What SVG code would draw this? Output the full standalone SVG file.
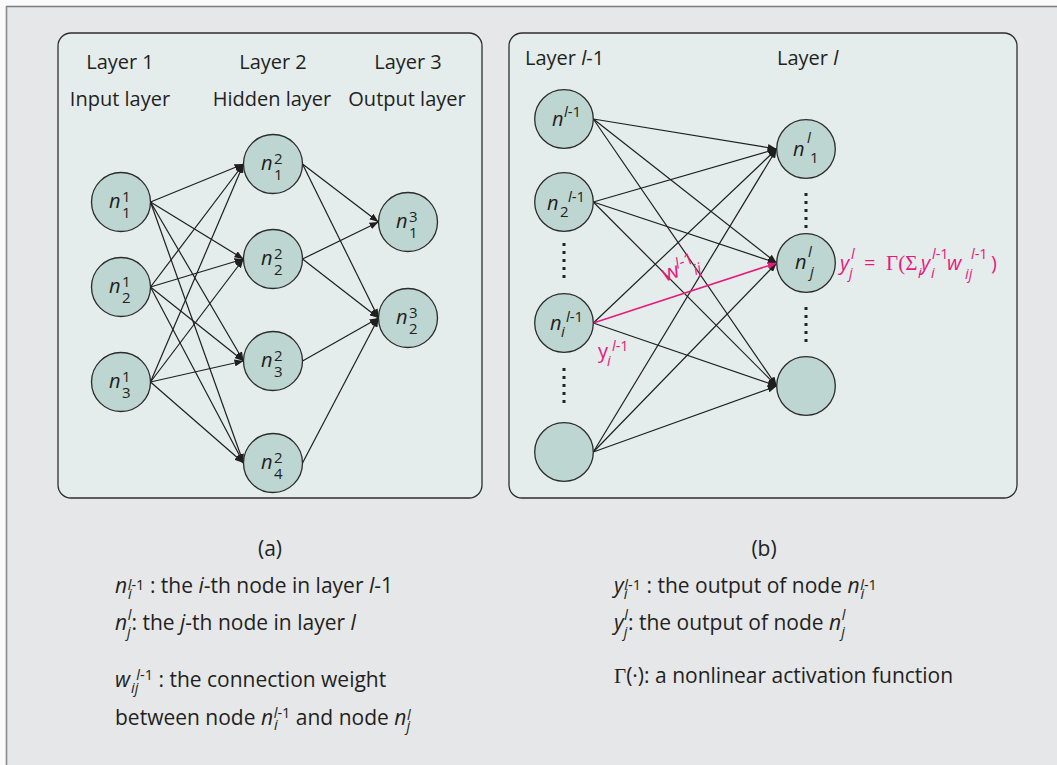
<svg xmlns="http://www.w3.org/2000/svg" width="1057" height="765" viewBox="0 0 1057 765">
<defs>
<style>
text{font-family:"Open Sans","Noto Sans",sans-serif;fill:#231f20;font-size:20px}
.it{font-style:italic}
.s{font-size:15px}
.s14{font-size:14.5px}
.pink{fill:#e8197d}
.serif{font-family:"Liberation Serif","DejaVu Serif",serif}
.panel{fill:#e4edec;stroke:#2e2e2e;stroke-width:1.3}
.node{fill:#bdd6d2;stroke:#2b2b2b;stroke-width:1.3}
.edge{stroke:#1f1f1f;stroke-width:1.2;fill:none;marker-end:url(#arr)}
.pedge{stroke:#e8197d;stroke-width:1.5;fill:none;marker-end:url(#arrp)}
.dots{stroke:#222;stroke-width:3;stroke-dasharray:3 5;fill:none}
text.leg{font-size:21px}
text.cap{font-size:21px}
</style>
<marker id="arr" markerUnits="userSpaceOnUse" markerWidth="9" markerHeight="7" refX="9" refY="3.5" orient="auto"><path d="M0,0 L9,3.5 L0,7 z" fill="#1f1f1f"/></marker>
<marker id="arrp" markerUnits="userSpaceOnUse" markerWidth="9" markerHeight="7" refX="9" refY="3.5" orient="auto"><path d="M0,0 L9,3.5 L0,7 z" fill="#e8197d"/></marker>
</defs>
<rect x="0" y="0" width="1057" height="765" fill="#fafafa"/>
<rect x="6" y="6" width="1051" height="759" fill="#e6e7e9"/>
<line x1="6" y1="6.5" x2="1057" y2="6.5" stroke="#7a7a7a" stroke-width="1.3"/>
<line x1="6.5" y1="6" x2="6.5" y2="765" stroke="#8a8a8a" stroke-width="1.6"/>

<g id="panel-a"><rect class="panel" x="58" y="33" width="424" height="465" rx="13"/></g>
<g id="panel-b"><rect class="panel" x="509" y="33" width="508" height="465" rx="13"/></g>

<g id="headers-a">
<text x="120" y="69" text-anchor="middle">Layer 1</text>
<text x="273" y="69" text-anchor="middle">Layer 2</text>
<text x="408" y="69" text-anchor="middle">Layer 3</text>
<text x="120" y="106" text-anchor="middle">Input layer</text>
<text x="272" y="106" text-anchor="middle">Hidden layer</text>
<text x="407" y="106" text-anchor="middle">Output layer</text>
</g>
<g id="headers-b">
<text x="525" y="65">Layer <tspan class="it">l</tspan>-1</text>
<text x="777" y="65">Layer <tspan class="it">l</tspan></text>
</g>

<g id="connectors">
<line class="edge" x1="150.5" y1="202" x2="243.5" y2="164"/>
<line class="edge" x1="150.5" y1="202" x2="243.5" y2="259"/>
<line class="edge" x1="150.5" y1="202" x2="243.5" y2="361"/>
<line class="edge" x1="150.5" y1="202" x2="243.5" y2="463"/>
<line class="edge" x1="150.5" y1="287" x2="243.5" y2="164"/>
<line class="edge" x1="150.5" y1="287" x2="243.5" y2="259"/>
<line class="edge" x1="150.5" y1="287" x2="243.5" y2="361"/>
<line class="edge" x1="150.5" y1="287" x2="243.5" y2="463"/>
<line class="edge" x1="150.5" y1="382" x2="243.5" y2="164"/>
<line class="edge" x1="150.5" y1="382" x2="243.5" y2="259"/>
<line class="edge" x1="150.5" y1="382" x2="243.5" y2="361"/>
<line class="edge" x1="150.5" y1="382" x2="243.5" y2="463"/>
<line class="edge" x1="302.5" y1="164" x2="378.5" y2="222"/>
<line class="edge" x1="302.5" y1="164" x2="378.5" y2="318"/>
<line class="edge" x1="302.5" y1="259" x2="378.5" y2="222"/>
<line class="edge" x1="302.5" y1="259" x2="378.5" y2="318"/>
<line class="edge" x1="302.5" y1="361" x2="378.5" y2="318"/>
<line class="edge" x1="302.5" y1="463" x2="378.5" y2="318"/>
<line class="edge" x1="593.3" y1="119" x2="776.7" y2="149"/>
<line class="edge" x1="593.3" y1="119" x2="776.7" y2="263"/>
<line class="edge" x1="593.3" y1="119" x2="776.7" y2="386"/>
<line class="edge" x1="593.3" y1="202" x2="776.7" y2="149"/>
<line class="edge" x1="593.3" y1="202" x2="776.7" y2="263"/>
<line class="edge" x1="593.3" y1="202" x2="776.7" y2="386"/>
<line class="edge" x1="593.3" y1="323" x2="776.7" y2="149"/>
<line class="edge" x1="593.3" y1="323" x2="776.7" y2="386"/>
<line class="edge" x1="593.3" y1="452" x2="776.7" y2="149"/>
<line class="edge" x1="593.3" y1="452" x2="776.7" y2="263"/>
<line class="edge" x1="593.3" y1="452" x2="776.7" y2="386"/>
<line class="pedge" x1="593.3" y1="323" x2="776.7" y2="263"/>
</g>

<g id="n1-1"><circle class="node" cx="121" cy="202" r="29.5"/><text><tspan class="it" x="109" y="208">n</tspan><tspan class="s" x="122" y="202">1</tspan><tspan class="s" x="122" y="218">1</tspan></text></g>
<g id="n1-2"><circle class="node" cx="121" cy="287" r="29.5"/><text><tspan class="it" x="109" y="293">n</tspan><tspan class="s" x="122" y="287">1</tspan><tspan class="s" x="122" y="303">2</tspan></text></g>
<g id="n1-3"><circle class="node" cx="121" cy="382" r="29.5"/><text><tspan class="it" x="109" y="388">n</tspan><tspan class="s" x="122" y="382">1</tspan><tspan class="s" x="122" y="398">3</tspan></text></g>
<g id="n2-1"><circle class="node" cx="273" cy="164" r="29.5"/><text><tspan class="it" x="261" y="170">n</tspan><tspan class="s" x="274" y="164">2</tspan><tspan class="s" x="274" y="180">1</tspan></text></g>
<g id="n2-2"><circle class="node" cx="273" cy="259" r="29.5"/><text><tspan class="it" x="261" y="265">n</tspan><tspan class="s" x="274" y="259">2</tspan><tspan class="s" x="274" y="275">2</tspan></text></g>
<g id="n2-3"><circle class="node" cx="273" cy="361" r="29.5"/><text><tspan class="it" x="261" y="367">n</tspan><tspan class="s" x="274" y="361">2</tspan><tspan class="s" x="274" y="377">3</tspan></text></g>
<g id="n2-4"><circle class="node" cx="273" cy="463" r="29.5"/><text><tspan class="it" x="261" y="469">n</tspan><tspan class="s" x="274" y="463">2</tspan><tspan class="s" x="274" y="479">4</tspan></text></g>
<g id="n3-1"><circle class="node" cx="408" cy="222" r="29.5"/><text><tspan class="it" x="396" y="228">n</tspan><tspan class="s" x="409" y="222">3</tspan><tspan class="s" x="409" y="238">1</tspan></text></g>
<g id="n3-2"><circle class="node" cx="408" cy="318" r="29.5"/><text><tspan class="it" x="396" y="324">n</tspan><tspan class="s" x="409" y="318">3</tspan><tspan class="s" x="409" y="334">2</tspan></text></g>

<g id="p1"><circle class="node" cx="564" cy="119" r="29.3"/><text><tspan class="it" x="552" y="126">n</tspan><tspan class="s" x="564" y="117"><tspan class="it">l</tspan>-1</tspan></text></g>
<g id="p2"><circle class="node" cx="564" cy="202" r="29.3"/><text><tspan class="it" x="547" y="210">n</tspan><tspan class="s" x="560" y="217">2</tspan><tspan class="s" x="568" y="202"><tspan class="it">l</tspan>-1</tspan></text></g>
<g id="p3"><circle class="node" cx="564" cy="323" r="29.3"/><text><tspan class="it" x="550" y="330">n</tspan><tspan class="s it" x="561" y="337">i</tspan><tspan class="s" x="566" y="322"><tspan class="it">l</tspan>-1</tspan></text></g>
<g id="p4"><circle class="node" cx="564" cy="452" r="29.3"/></g>
<g id="q1"><circle class="node" cx="806" cy="149" r="29.3"/><text><tspan class="it" x="793" y="156">n</tspan><tspan class="s it" x="807" y="143">l</tspan><tspan class="s" x="810" y="163">1</tspan></text></g>
<g id="q2"><circle class="node" cx="806" cy="263" r="29.3"/><text><tspan class="it" x="795" y="269">n</tspan><tspan class="s it" x="808" y="257">l</tspan><tspan class="s it" x="810" y="277">j</tspan></text></g>
<g id="q3"><circle class="node" cx="806" cy="386" r="29.3"/></g>

<g id="ellipses">
<line class="dots" x1="564" y1="243" x2="564" y2="282"/>
<line class="dots" x1="564" y1="368" x2="564" y2="407"/>
<line class="dots" x1="806" y1="193" x2="806" y2="232"/>
<line class="dots" x1="806" y1="307" x2="806" y2="346"/>
</g>

<g id="pink-labels">
<g transform="translate(665,282) rotate(-20)"><text class="pink"><tspan x="0" y="0" font-size="22">w</tspan><tspan class="s it pink" x="16" y="-8" font-size="16">l</tspan><tspan class="pink" x="20" y="-8" font-size="16">-1</tspan><tspan class="it pink" x="31" y="4" font-size="15">ij</tspan></text></g>
<text class="pink"><tspan x="598" y="358">y</tspan><tspan class="s14 it pink" x="607" y="366">i</tspan><tspan class="s14 pink" x="612" y="351"><tspan class="it">l</tspan>-1</tspan></text>
<text class="pink"><tspan class="it" x="840" y="270">y</tspan><tspan class="s14 it" x="851" y="259">l</tspan><tspan class="s14 it" x="849" y="278">j</tspan><tspan x="864" y="270">=</tspan><tspan class="serif" x="886" y="270" font-size="21">Γ(Σ</tspan><tspan class="s14 it" x="918" y="278">i</tspan><tspan class="it" x="921" y="270">y</tspan><tspan class="s14" x="932" y="259"><tspan class="it">l</tspan>-1</tspan><tspan class="s14 it" x="931" y="278">i</tspan><tspan class="it" x="947" y="270">w</tspan><tspan class="s14 it" x="965" y="279">ij</tspan><tspan class="s14" x="971" y="259"><tspan class="it">l</tspan>-1</tspan><tspan x="991" y="270">)</tspan></text>
</g>

<g id="captions">
<text class="cap" x="270" y="556" text-anchor="middle">(a)</text>
<text class="cap" x="764" y="556" text-anchor="middle">(b)</text>
</g>

<g id="legend-left">
<text class="leg" x="115" y="593"><tspan class="it">n</tspan><tspan class="s14 it" dx="1" dy="6">i</tspan><tspan class="s14" dx="-4" dy="-9"><tspan class="it">l</tspan>-1</tspan><tspan dy="3"> : the </tspan><tspan class="it">i</tspan><tspan>-th node in layer </tspan><tspan class="it">l</tspan><tspan>-1</tspan></text>
<text class="leg" x="115" y="630"><tspan class="it">n</tspan><tspan class="s14 it" dx="0" dy="7">j</tspan><tspan class="s14 it" dx="-3" dy="-17">l</tspan><tspan dy="10">: the </tspan><tspan class="it">j</tspan><tspan>-th node in layer </tspan><tspan class="it">l</tspan></text>
<text class="leg" x="115" y="687"><tspan class="it">w</tspan><tspan class="s14 it" dx="1" dy="6">ij</tspan><tspan class="s14" dx="-2" dy="-13"><tspan class="it">l</tspan>-1</tspan><tspan dy="7"> : the connection weight</tspan></text>
<text class="leg" x="115" y="725"><tspan>between node </tspan><tspan class="it">n</tspan><tspan class="s14 it" dx="1" dy="5">i</tspan><tspan class="s14" dx="-4" dy="-12"><tspan class="it">l</tspan>-1</tspan><tspan dy="7">  and node </tspan><tspan class="it">n</tspan><tspan class="s14 it" dx="0" dy="6">j</tspan><tspan class="s14 it" dx="-3" dy="-11">l</tspan></text>
</g>
<g id="legend-right">
<text class="leg" x="614" y="593"><tspan class="it">y</tspan><tspan class="s14 it" dx="0" dy="6">i</tspan><tspan class="s14" dx="-3" dy="-9"><tspan class="it">l</tspan>-1</tspan><tspan dy="3"> : the output of node </tspan><tspan class="it">n</tspan><tspan class="s14 it" dx="1" dy="6">i</tspan><tspan class="s14" dx="-4" dy="-9"><tspan class="it">l</tspan>-1</tspan></text>
<text class="leg" x="614" y="630"><tspan class="it">y</tspan><tspan class="s14 it" dx="0" dy="7">j</tspan><tspan class="s14 it" dx="-3" dy="-17">l</tspan><tspan dy="10">: the output of node </tspan><tspan class="it">n</tspan><tspan class="s14 it" dx="0" dy="7">j</tspan><tspan class="s14 it" dx="-3" dy="-17">l</tspan></text>
<text class="leg" x="614" y="683"><tspan class="serif">Γ</tspan><tspan>(·): a nonlinear activation function</tspan></text>
</g>
</svg>
